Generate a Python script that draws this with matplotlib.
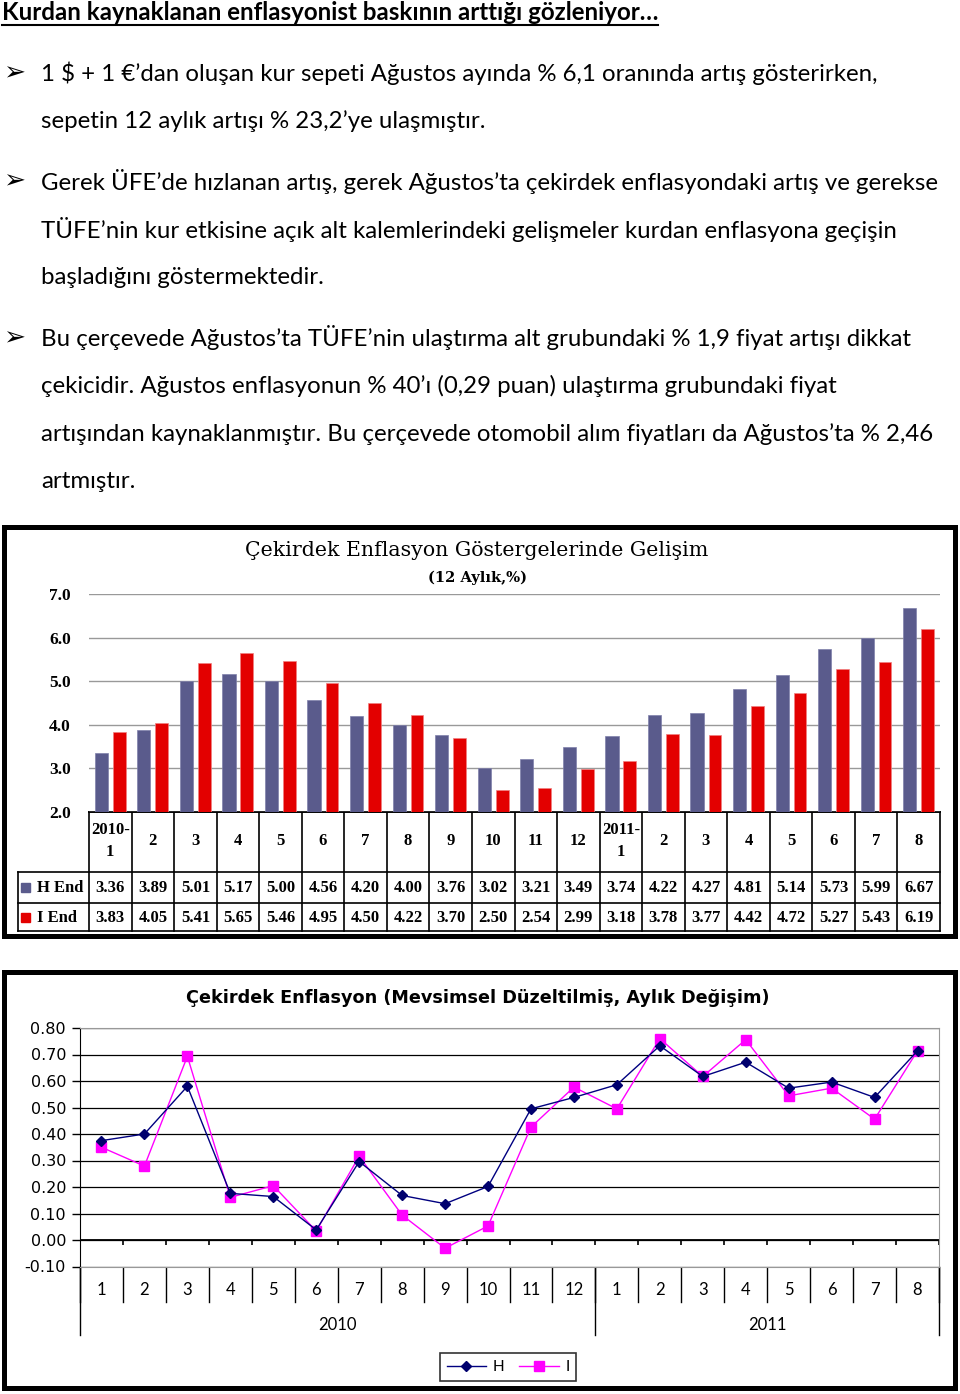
import matplotlib
matplotlib.use('Agg')
import matplotlib.pyplot as plt
from matplotlib.patches import Rectangle
from matplotlib.lines import Line2D
import numpy as np

W, H = 960, 1394

# ---------------- data ----------------
title = "Kurdan kaynaklanan enflasyonist baskının arttığı gözleniyor…"
paragraph_lines = [
    (True,  "1 $ + 1 €’dan oluşan kur sepeti Ağustos ayında % 6,1 oranında artış gösterirken,"),
    (False, "sepetin 12 aylık artışı % 23,2’ye ulaşmıştır."),
    (True,  "Gerek ÜFE’de hızlanan artış, gerek Ağustos’ta çekirdek enflasyondaki artış ve gerekse"),
    (False, "TÜFE’nin kur etkisine açık alt kalemlerindeki gelişmeler kurdan enflasyona geçişin"),
    (False, "başladığını göstermektedir."),
    (True,  "Bu çerçevede Ağustos’ta TÜFE’nin ulaştırma alt grubundaki % 1,9 fiyat artışı dikkat"),
    (False, "çekicidir. Ağustos enflasyonun % 40’ı (0,29 puan) ulaştırma grubundaki fiyat"),
    (False, "artışından kaynaklanmıştır. Bu çerçevede otomobil alım fiyatları da Ağustos’ta % 2,46"),
    (False, "artmıştır."),
]
line_y = [73, 121, 181, 229, 277, 338, 386, 434, 482]

months = ["2010-\n1", "2", "3", "4", "5", "6", "7", "8", "9", "10", "11", "12",
          "2011-\n1", "2", "3", "4", "5", "6", "7", "8"]
h_end = [3.36, 3.89, 5.01, 5.17, 5.00, 4.56, 4.20, 4.00, 3.76, 3.02, 3.21, 3.49,
         3.74, 4.22, 4.27, 4.81, 5.14, 5.73, 5.99, 6.67]
i_end = [3.83, 4.05, 5.41, 5.65, 5.46, 4.95, 4.50, 4.22, 3.70, 2.50, 2.54, 2.99,
         3.18, 3.78, 3.77, 4.42, 4.72, 5.27, 5.43, 6.19]
series1_names = ["H End", "I End"]
chart1_title = "Çekirdek Enflasyon Göstergelerinde Gelişim"
chart1_sub = "(12 Aylık,%)"
y_ticks1 = [2.0, 3.0, 4.0, 5.0, 6.0, 7.0]

h_mom = [0.375, 0.40, 0.58, 0.176, 0.164, 0.038, 0.296, 0.168, 0.137, 0.202, 0.495, 0.538,
         0.586, 0.733, 0.617, 0.671, 0.573, 0.596, 0.538, 0.714]
i_mom = [0.35, 0.279, 0.693, 0.161, 0.205, 0.034, 0.316, 0.094, -0.031, 0.053, 0.426, 0.577,
         0.495, 0.76, 0.617, 0.756, 0.544, 0.573, 0.456, 0.714]
years = ["2010", "2011"]
year_counts = [12, 8]
series2_names = ["H", "I"]
chart2_title = "Çekirdek Enflasyon (Mevsimsel Düzeltilmiş, Aylık Değişim)"
y_ticks2 = [-0.10, 0.00, 0.10, 0.20, 0.30, 0.40, 0.50, 0.60, 0.70, 0.80]

# ---------------- figure ----------------
fig = plt.figure(figsize=(W / 100, H / 100), dpi=100)
bg = fig.add_axes([0, 0, 1, 1])
bg.set_xlim(0, W)
bg.set_ylim(H, 0)
bg.axis('off')

def frac(x0, y0, x1, y1):
    return [x0 / W, 1 - y1 / H, (x1 - x0) / W, (y1 - y0) / H]

SANS = ['Lato', 'DejaVu Sans']

# title with underline
t = bg.text(2, 13, title, fontsize=17.4, fontweight='bold', family=SANS, va='center', ha='left')
r = fig.canvas.get_renderer()
bb = t.get_window_extent(renderer=r)
bg.plot([2, bb.x1], [25, 25], color='black', lw=1.5)

for (bullet, txt), y in zip(paragraph_lines, line_y):
    if bullet:
        bg.text(3, y, "➢", fontsize=19, family=['DejaVu Sans'], va='center', ha='left')
    bg.text(41, y, txt, fontsize=17.3, family=SANS, va='center', ha='left')

# ---------------- chart 1 ----------------
bg.add_patch(Rectangle((4, 527), 951, 409, fill=False, lw=3.6, ec='black'))
bg.text(477, 550, chart1_title, fontsize=14.8, family='DejaVu Serif', ha='center', va='center')
bg.text(478, 578, chart1_sub, fontsize=10.5, family='DejaVu Serif', fontweight='bold',
        ha='center', va='center')

X0, X1 = 89, 940
ax1 = fig.add_axes(frac(X0, 594, X1, 812))
x = np.arange(len(months))
c_h, c_i = '#5a5b8c', '#e30000'
ax1.bar(x - 0.21, h_end, width=0.31, color=c_h, edgecolor='#7f80aa', lw=0.5, zorder=3)
ax1.bar(x + 0.21, i_end, width=0.30, color=c_i, edgecolor='#f08080', lw=0.5, zorder=3)
ax1.set_xlim(-0.5, len(months) - 0.5)
ax1.set_ylim(y_ticks1[0], y_ticks1[-1])
ax1.set_yticks(y_ticks1)
ax1.set_yticklabels([f"{v:.1f}" for v in y_ticks1], family='Liberation Serif',
                    fontweight='bold', fontsize=12.5)
ax1.set_xticks([])
ax1.tick_params(axis='y', length=0, pad=13)
ax1.yaxis.grid(True, color='#999999', lw=1)
ax1.set_axisbelow(True)
for s in ['left', 'right', 'top']:
    ax1.spines[s].set_visible(False)
ax1.spines['bottom'].set_color('black')
ax1.spines['bottom'].set_linewidth(1.2)

# data table
cw = (X1 - X0) / len(months)
ytop, yh, yi, ybot = 812, 872, 903, 931
LX = 18
bg.plot([X0, X1], [ytop, ytop], color='black', lw=1.2)
for yy in (yh, yi, ybot):
    bg.plot([LX, X1], [yy, yy], color='black', lw=1.2)
for k in range(len(months) + 1):
    bg.plot([X0 + k * cw] * 2, [ytop, ybot], color='black', lw=1.2)
bg.plot([LX, LX], [yh, ybot], color='black', lw=1.2)
TF = dict(family='Liberation Serif', fontweight='bold', fontsize=12, ha='center', va='center')
for k, m in enumerate(months):
    cx = X0 + (k + 0.5) * cw
    bg.text(cx, 841, m, linespacing=1.5, **TF)
    bg.text(cx, (yh + yi) / 2 + 1, f"{h_end[k]:.2f}", **TF)
    bg.text(cx, (yi + ybot) / 2 + 1, f"{i_end[k]:.2f}", **TF)
bg.add_patch(Rectangle((21, 883), 9, 9, color=c_h))
bg.add_patch(Rectangle((21, 913), 9, 9, color=c_i))
bg.text(37, (yh + yi) / 2 + 1, series1_names[0], family='Liberation Serif', fontweight='bold',
        fontsize=12, ha='left', va='center')
bg.text(37, (yi + ybot) / 2 + 1, series1_names[1], family='Liberation Serif', fontweight='bold',
        fontsize=12, ha='left', va='center')

# ---------------- chart 2 ----------------
bg.add_patch(Rectangle((4, 972), 951, 416, fill=False, lw=3.6, ec='black'))
bg.text(478, 998, chart2_title, fontsize=12.7, fontweight='bold', family='DejaVu Sans',
        ha='center', va='center')

P0, P1 = 80, 939
ax2 = fig.add_axes(frac(P0, 1028, P1, 1266.5))
l1, = ax2.plot(x, h_mom, color='#000080', lw=1, marker='D', ms=5.5, mfc='#00006e',
               mec='#00006e', label=series2_names[0], zorder=4)
l2, = ax2.plot(x, i_mom, color='#ff00ff', lw=1, marker='s', ms=7, mfc='#ff00ff',
               mec='#ff00ff', label=series2_names[1], zorder=3)
ax2.set_xlim(-0.5, len(months) - 0.5)
ax2.set_ylim(y_ticks2[0], y_ticks2[-1])
ax2.set_yticks(y_ticks2)
ax2.set_yticklabels([f"{v:.2f}" for v in y_ticks2], family='DejaVu Sans', fontsize=11.5)
ax2.set_xticks([])
ax2.tick_params(axis='y', direction='out', length=6, width=1, color='black', pad=4)
ax2.yaxis.grid(True, color='black', lw=0.9)
ax2.set_axisbelow(True)
for s in ['right', 'top', 'bottom']:
    ax2.spines[s].set_color('#999999')
ax2.spines['left'].set_color('black')
ax2.axhline(0, color='black', lw=1.3, zorder=2)
ax2.vlines(np.arange(len(months) + 1) - 0.5, -0.019, 0, color='black', lw=1.2, zorder=2)

# multi-level category labels
cw2 = (P1 - P0) / len(months)
for k, m in enumerate(months):
    bg.text(P0 + (k + 0.5) * cw2, 1290, m.split('-\n')[-1], family=SANS, fontsize=12,
            ha='center', va='center')
for k in range(len(months) + 1):
    bg.plot([P0 + k * cw2] * 2, [1267, 1302], color='black', lw=1)
start = 0
for yname, cnt in zip(years, year_counts):
    bg.plot([P0 + start * cw2] * 2, [1267, 1335], color='black', lw=1)
    bg.text(P0 + (start + cnt / 2) * cw2, 1325, yname, family=SANS, fontsize=12,
            ha='center', va='center')
    start += cnt
bg.plot([P0 + start * cw2] * 2, [1267, 1335], color='black', lw=1)

leg = fig.legend(handles=[l1, l2], labels=series2_names, loc='center',
                 bbox_to_anchor=(508 / W, 1 - 1367 / H), ncol=2, frameon=True,
                 fancybox=False, edgecolor='black', handlelength=2.6, columnspacing=1.0,
                 handletextpad=0.4, borderpad=0.45, prop={'family': SANS, 'size': 11})
leg.get_frame().set_linewidth(1.2)

fig.savefig('out.png', dpi=100)
